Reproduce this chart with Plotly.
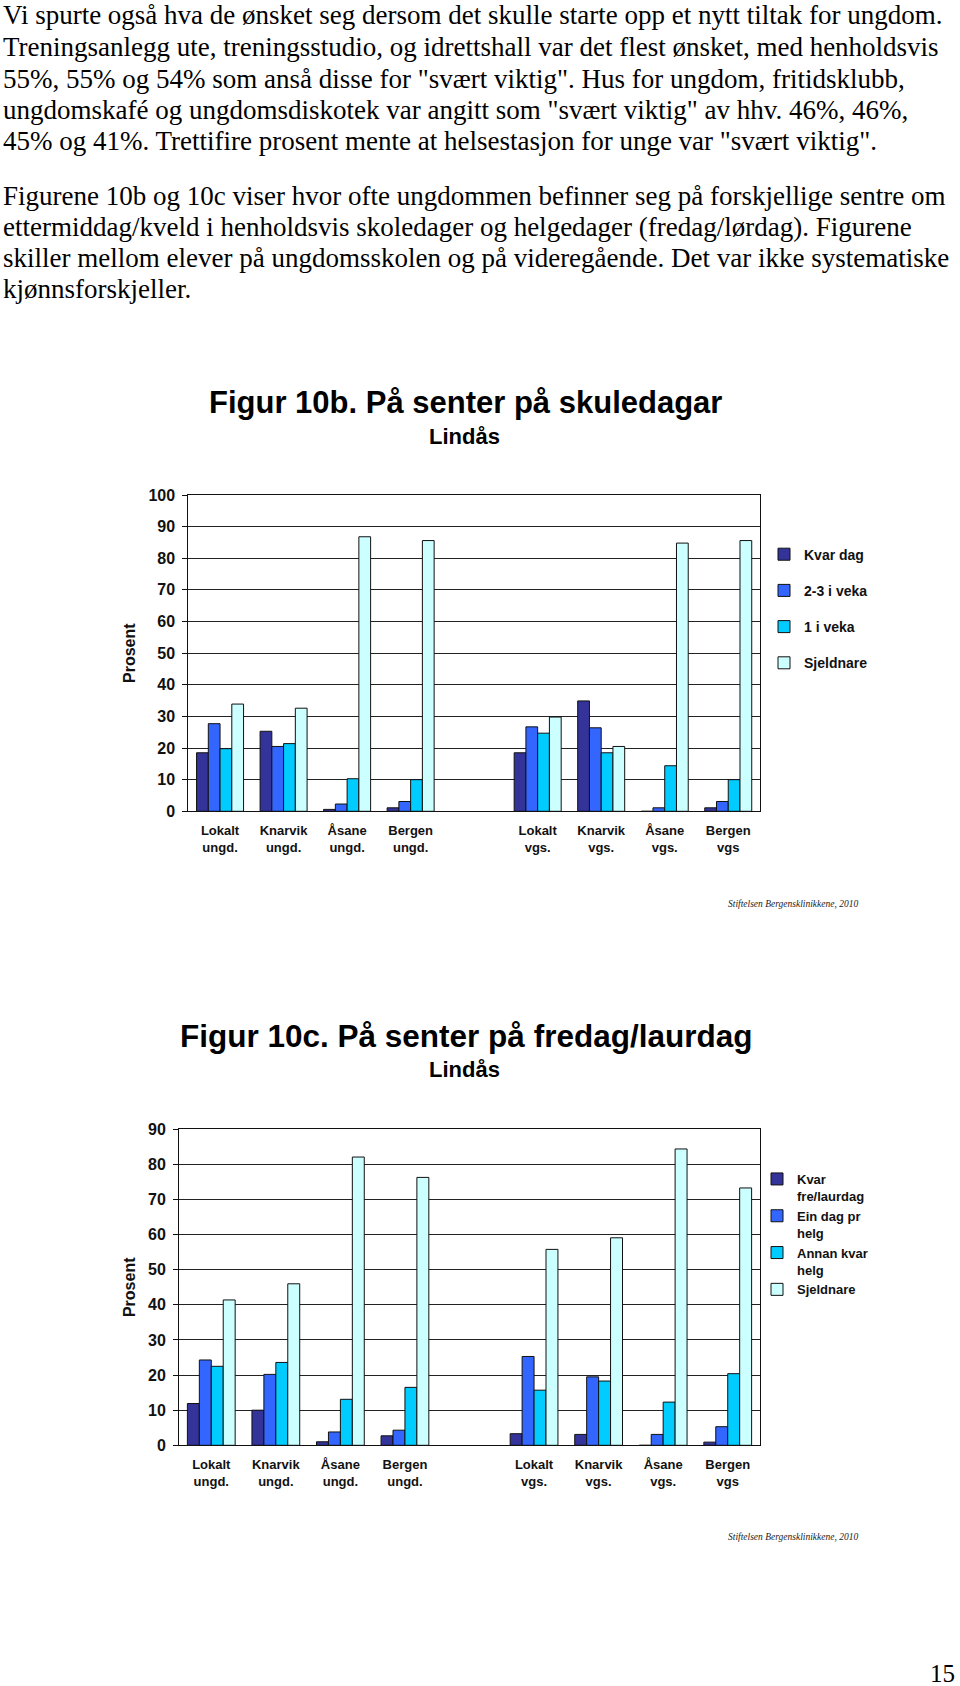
import plotly.graph_objects as go

W, H = 960, 1686

def px(v):
    return v / W

def py(v):
    return 1 - v / H

# ---------------- data ----------------
categories = ["Lokalt<br>ungd.", "Knarvik<br>ungd.", "Åsane<br>ungd.", "Bergen<br>ungd.", " ",
              "Lokalt<br>vgs.", "Knarvik<br>vgs.", "Åsane<br>vgs.", "Bergen<br>vgs"]

# Figur 10b - skuledagar
series_b = ["Kvar dag", "2-3 i veka", "1 i veka", "Sjeldnare"]
kvar_dag    = [18.5, 25.3, 0.6, 1.1, None, 18.5, 34.9, 0.0, 1.1]
to_tre_veka = [27.7, 20.5, 2.3, 3.1, None, 26.7, 26.4, 1.1, 3.1]
ein_veka    = [19.8, 21.4, 10.3, 10.0, None, 24.7, 18.5, 14.4, 10.0]
sjeldnare_b = [33.9, 32.6, 86.8, 85.6, None, 29.8, 20.5, 84.8, 85.6]

# Figur 10c - fredag/laurdag
series_c = ["Kvar<br>fre/laurdag", "Ein dag pr<br>helg", "Annan kvar<br>helg", "Sjeldnare"]
kvar_helg   = [11.9, 10.0, 1.0, 2.7, None, 3.3, 3.1, 0.0, 0.9]
ein_dag     = [24.3, 20.2, 3.8, 4.3, None, 25.3, 19.5, 3.1, 5.3]
annan_helg  = [22.5, 23.6, 13.1, 16.5, None, 15.7, 18.3, 12.3, 20.4]
sjeldnare_c = [41.4, 46.0, 82.1, 76.3, None, 55.8, 59.1, 84.4, 73.3]

colors = ["#333399", "#3366FF", "#00CCFF", "#CCFFFF"]

para1 = [
    "Vi spurte også hva de ønsket seg dersom det skulle starte opp et nytt tiltak for ungdom.",
    "Treningsanlegg ute, treningsstudio, og idrettshall var det flest ønsket, med henholdsvis",
    "55%, 55% og 54% som anså disse for \"svært viktig\". Hus for ungdom, fritidsklubb,",
    "ungdomskafé og ungdomsdiskotek var angitt som \"svært viktig\" av hhv. 46%, 46%,",
    "45% og 41%. Trettifire prosent mente at helsestasjon for unge var \"svært viktig\".",
]
para2 = [
    "Figurene 10b og 10c viser hvor ofte ungdommen befinner seg på forskjellige sentre om",
    "ettermiddag/kveld i henholdsvis skoledager og helgedager (fredag/lørdag). Figurene",
    "skiller mellom elever på ungdomsskolen og på videregående. Det var ikke systematiske",
    "kjønnsforskjeller.",
]

SANS = "Liberation Sans, Arial, sans-serif"
SERIF = "Liberation Serif, Times New Roman, serif"

fig = go.Figure()

for i, (name, vals) in enumerate(zip(series_b, [kvar_dag, to_tre_veka, ein_veka, sjeldnare_b])):
    fig.add_trace(go.Bar(
        x=categories, y=vals, name=name, xaxis="x", yaxis="y",
        marker=dict(color=colors[i], line=dict(color="#111111", width=1)),
        legend="legend", legendgroup="b%d" % i,
    ))

for i, (name, vals) in enumerate(zip(series_c, [kvar_helg, ein_dag, annan_helg, sjeldnare_c])):
    fig.add_trace(go.Bar(
        x=categories, y=vals, name=name, xaxis="x2", yaxis="y2",
        marker=dict(color=colors[i], line=dict(color="#111111", width=1)),
        legend="legend2",
    ))

tickfont = dict(family=SANS, size=13, color="#111111", weight="bold")
yfont = dict(family=SANS, size=16, color="#111111", weight="bold")
titlefont = dict(family=SANS, size=16, color="#111111", weight="bold")

def xaxis_cfg(domain, anchor):
    return dict(domain=domain, anchor=anchor, type="category",
                categoryorder="array", categoryarray=categories,
                range=[-0.5, 8.5], showline=True, linecolor="#111111", linewidth=1,
                mirror=True, ticks="", showgrid=False, tickfont=tickfont,
                ticklabelstandoff=7, automargin=False, fixedrange=True)

def yaxis_cfg(domain, anchor, top):
    return dict(domain=domain, anchor=anchor, range=[0, top], dtick=10,
                showline=True, linecolor="#111111", linewidth=1, mirror=True,
                ticks="outside", ticklen=5, tickcolor="#111111",
                showgrid=True, gridcolor="#222222", gridwidth=1,
                zeroline=False, tickfont=yfont, ticklabelstandoff=4,
                automargin=False,
                title=dict(text="Prosent", font=titlefont, standoff=8),
                fixedrange=True)

fig.update_layout(
    width=W, height=H,
    margin=dict(l=0, r=0, t=0, b=0),
    paper_bgcolor="white", plot_bgcolor="white",
    barmode="group", bargap=0.26, bargroupgap=0,
    xaxis=xaxis_cfg([px(188.3), px(760)], "y"),
    yaxis=yaxis_cfg([py(811.3), py(495)], "x", 100),
    xaxis2=xaxis_cfg([px(179), px(760)], "y2"),
    yaxis2=yaxis_cfg([py(1445.3), py(1129.3)], "x2", 90),
    legend=dict(x=px(764), xanchor="left", y=py(538.6), yanchor="top",
                font=dict(family=SANS, size=14, color="#111111", weight="bold"),
                traceorder="grouped", tracegroupgap=15, bgcolor="rgba(0,0,0,0)",
                itemclick=False, itemdoubleclick=False),
    legend2=dict(x=px(757), xanchor="left", y=py(1164), yanchor="top",
                 font=dict(family=SANS, size=13, color="#111111", weight="bold"),
                 traceorder="normal", valign="top",
                 bgcolor="rgba(0,0,0,0)", itemclick=False, itemdoubleclick=False),
    showlegend=True,
)

ann = []
line_y1 = [15, 47, 78.5, 110, 141]
for t, yy in zip(para1, line_y1):
    ann.append(dict(text=t, x=px(1), y=py(yy), xref="paper", yref="paper",
                    xanchor="left", yanchor="middle", showarrow=False,
                    font=dict(family=SERIF, size=27, color="#000000")))
line_y2 = [196, 227, 258, 289]
for t, yy in zip(para2, line_y2):
    ann.append(dict(text=t, x=px(1), y=py(yy), xref="paper", yref="paper",
                    xanchor="left", yanchor="middle", showarrow=False,
                    font=dict(family=SERIF, size=27, color="#000000")))

# chart titles
ann.append(dict(text="Figur 10b. På senter på skuledagar", x=px(465), y=py(402),
                xref="paper", yref="paper", xanchor="center", yanchor="middle",
                showarrow=False, font=dict(family=SANS, size=31, color="#000000", weight="bold")))
ann.append(dict(text="Lindås", x=px(464), y=py(436), xref="paper", yref="paper",
                xanchor="center", yanchor="middle", showarrow=False,
                font=dict(family=SANS, size=22, color="#000000", weight="bold")))
ann.append(dict(text="Figur 10c. På senter på fredag/laurdag", x=px(466), y=py(1036),
                xref="paper", yref="paper", xanchor="center", yanchor="middle",
                showarrow=False, font=dict(family=SANS, size=31.5, color="#000000", weight="bold")))
ann.append(dict(text="Lindås", x=px(464), y=py(1069), xref="paper", yref="paper",
                xanchor="center", yanchor="middle", showarrow=False,
                font=dict(family=SANS, size=22, color="#000000", weight="bold")))

# sources
for yy in [904, 1537]:
    ann.append(dict(text="<i>Stiftelsen Bergensklinikkene, 2010</i>", x=px(793), y=py(yy),
                    xref="paper", yref="paper", xanchor="center", yanchor="middle",
                    showarrow=False, font=dict(family=SERIF, size=9.5, color="#222222")))

# page number
ann.append(dict(text="15", x=px(957), y=py(1673), xref="paper", yref="paper",
                xanchor="right", yanchor="middle", showarrow=False,
                font=dict(family=SERIF, size=25, color="#000000")))

fig.update_layout(annotations=ann)

fig.write_html("out.html", config={"displayModeBar": False})
